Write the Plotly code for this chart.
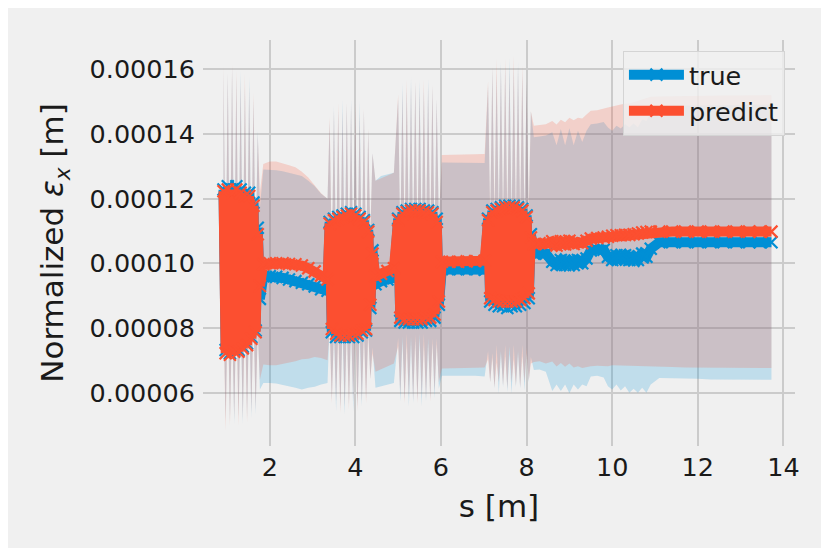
import plotly.graph_objects as go

# ---------------- data ----------------
s = [
    0.92, 0.97, 1.02, 1.07, 1.12, 1.17, 1.22, 1.27, 1.32, 1.37, 1.42, 1.47, 1.52, 1.57, 1.62, 1.67, 1.72,
    1.77, 1.85, 2.0, 2.15, 2.3, 2.45, 2.6, 2.75, 2.9, 3.05, 3.2, 3.35,
    3.40, 3.45, 3.50, 3.55, 3.60, 3.65, 3.70, 3.75, 3.80, 3.85, 3.90, 3.95, 4.00, 4.05, 4.10, 4.15, 4.20, 4.25, 4.30, 4.35, 4.40,
    4.47, 4.6, 4.75, 4.9,
    5.00, 5.05, 5.10, 5.15, 5.20, 5.25, 5.30, 5.35, 5.40, 5.45, 5.50, 5.55, 5.60, 5.65, 5.70, 5.75, 5.80, 5.85, 5.90, 5.95,
    6.02, 6.2, 6.4, 6.6, 6.8, 7.02,
    7.10, 7.15, 7.20, 7.25, 7.30, 7.35, 7.40, 7.45, 7.50, 7.55, 7.60, 7.65, 7.70, 7.75, 7.80, 7.85, 7.90, 7.95, 8.00, 8.05, 8.10,
    8.17, 8.3, 8.45, 8.6, 8.7, 8.8, 8.9, 9.0, 9.1, 9.2, 9.3, 9.4, 9.5, 9.65, 9.8, 9.9, 10.0, 10.1, 10.2, 10.3, 10.4, 10.5,
    10.6, 10.7, 10.8, 10.9, 11.1, 11.4, 11.7, 12.0, 12.3, 12.6, 12.9, 13.2, 13.45, 13.72,
]

true_eps = [
    12.28e-5, 7.32e-5, 12.38e-5, 7.22e-5, 12.28e-5, 7.32e-5, 12.38e-5, 7.32e-5, 12.28e-5, 7.42e-5, 12.18e-5, 7.52e-5, 12.18e-5, 7.72e-5, 11.88e-5, 7.92e-5, 11.1e-5,
    8.9e-5, 9.6e-5, 9.6e-5, 9.58e-5, 9.55e-5, 9.5e-5, 9.45e-5, 9.4e-5, 9.35e-5, 9.28e-5, 9.2e-5, 9.15e-5,
    11.28e-5, 7.87e-5, 11.38e-5, 7.72e-5, 11.43e-5, 7.72e-5, 11.48e-5, 7.72e-5, 11.53e-5, 7.72e-5, 11.58e-5, 7.72e-5, 11.53e-5, 7.77e-5, 11.43e-5, 7.87e-5, 11.33e-5, 7.92e-5, 11.03e-5, 8.62e-5, 10.4e-5,
    9.35e-5, 9.45e-5, 9.5e-5, 9.55e-5,
    11.38e-5, 8.22e-5, 11.58e-5, 8.17e-5, 11.63e-5, 8.17e-5, 11.68e-5, 8.17e-5, 11.68e-5, 8.17e-5, 11.68e-5, 8.17e-5, 11.63e-5, 8.22e-5, 11.63e-5, 8.22e-5, 11.58e-5, 8.32e-5, 11.38e-5, 8.72e-5,
    9.82e-5, 9.82e-5, 9.82e-5, 9.82e-5, 9.82e-5, 9.8e-5,
    11.38e-5, 8.82e-5, 11.63e-5, 8.72e-5, 11.68e-5, 8.67e-5, 11.73e-5, 8.67e-5, 11.78e-5, 8.62e-5, 11.78e-5, 8.67e-5, 11.78e-5, 8.67e-5, 11.73e-5, 8.72e-5, 11.68e-5, 8.77e-5, 11.48e-5, 8.92e-5, 10.9e-5,
    10.3e-5, 10.32e-5, 10.3e-5, 10.05e-5, 9.95e-5, 10.1e-5, 9.95e-5, 10.08e-5, 9.95e-5, 10.1e-5, 10.0e-5, 10.15e-5, 10.4e-5, 10.42e-5, 10.42e-5, 10.2e-5, 10.1e-5, 10.25e-5, 10.12e-5, 10.25e-5, 10.1e-5, 10.22e-5,
    10.1e-5, 10.3e-5, 10.2e-5, 10.45e-5, 10.65e-5, 10.65e-5, 10.65e-5, 10.65e-5, 10.65e-5, 10.65e-5, 10.65e-5, 10.65e-5, 10.65e-5, 10.65e-5,
]

pred_eps = [
    12.23e-5, 7.22e-5, 12.28e-5, 7.17e-5, 12.18e-5, 7.27e-5, 12.28e-5, 7.27e-5, 12.18e-5, 7.37e-5, 12.08e-5, 7.47e-5, 12.08e-5, 7.67e-5, 11.78e-5, 7.87e-5, 10.9e-5,
    9.3e-5, 9.97e-5, 10.0e-5, 10.0e-5, 10.0e-5, 9.98e-5, 9.97e-5, 9.93e-5, 9.85e-5, 9.75e-5, 9.62e-5, 9.5e-5,
    11.23e-5, 7.97e-5, 11.33e-5, 7.82e-5, 11.38e-5, 7.77e-5, 11.43e-5, 7.77e-5, 11.48e-5, 7.77e-5, 11.53e-5, 7.82e-5, 11.48e-5, 7.82e-5, 11.38e-5, 7.92e-5, 11.28e-5, 7.97e-5, 10.98e-5, 8.72e-5, 10.3e-5,
    9.6e-5, 9.68e-5, 9.76e-5, 9.85e-5,
    11.33e-5, 8.32e-5, 11.53e-5, 8.27e-5, 11.58e-5, 8.27e-5, 11.63e-5, 8.27e-5, 11.63e-5, 8.27e-5, 11.63e-5, 8.27e-5, 11.58e-5, 8.32e-5, 11.58e-5, 8.32e-5, 11.53e-5, 8.42e-5, 11.28e-5, 8.82e-5,
    10.05e-5, 10.05e-5, 10.05e-5, 10.06e-5, 10.07e-5, 10.08e-5,
    11.33e-5, 8.92e-5, 11.58e-5, 8.87e-5, 11.63e-5, 8.82e-5, 11.68e-5, 8.82e-5, 11.73e-5, 8.82e-5, 11.73e-5, 8.82e-5, 11.73e-5, 8.82e-5, 11.68e-5, 8.87e-5, 11.63e-5, 8.92e-5, 11.43e-5, 9.07e-5, 10.8e-5,
    10.6e-5, 10.62e-5, 10.6e-5, 10.68e-5, 10.55e-5, 10.68e-5, 10.58e-5, 10.7e-5, 10.6e-5, 10.66e-5, 10.62e-5, 10.7e-5, 10.77e-5, 10.78e-5, 10.8e-5, 10.82e-5, 10.85e-5, 10.87e-5, 10.87e-5, 10.88e-5, 10.88e-5, 10.9e-5,
    10.92e-5, 10.95e-5, 10.97e-5, 10.98e-5, 10.98e-5, 10.98e-5, 10.98e-5, 10.98e-5, 10.98e-5, 10.98e-5, 10.98e-5, 10.98e-5, 10.98e-5, 10.98e-5,
]

true_std = [
    3.7e-5, 2.2e-5, 3.5e-5, 2.1e-5, 3.8e-5, 2.3e-5, 3.4e-5, 2.1e-5, 3.7e-5, 2.4e-5, 3.3e-5, 2.3e-5, 3.6e-5, 2.5e-5, 3.2e-5, 2.6e-5, 3.0e-5,
    2.8e-5, 3.3e-5, 3.3e-5, 3.3e-5, 3.3e-5, 3.3e-5, 3.3e-5, 3.3e-5, 3.2e-5, 3.1e-5, 2.95e-5, 2.85e-5,
    3.1e-5, 2.1e-5, 3.5e-5, 2.3e-5, 3.3e-5, 2.2e-5, 3.6e-5, 2.4e-5, 3.4e-5, 2.1e-5, 3.5e-5, 2.3e-5, 3.2e-5, 2.2e-5, 3.6e-5, 2.3e-5, 3.4e-5, 2.1e-5, 3.1e-5, 2.2e-5, 3.0e-5,
    3.2e-5, 3.25e-5, 3.25e-5, 3.25e-5,
    3.7e-5, 2.5e-5, 4.0e-5, 2.4e-5, 3.8e-5, 2.6e-5, 4.1e-5, 2.5e-5, 3.9e-5, 2.4e-5, 4.0e-5, 2.6e-5, 3.8e-5, 2.5e-5, 4.1e-5, 2.4e-5, 3.9e-5, 2.5e-5, 3.7e-5, 2.6e-5,
    3.3e-5, 3.3e-5, 3.3e-5, 3.3e-5, 3.3e-5, 3.3e-5,
    4.1e-5, 2.5e-5, 4.4e-5, 2.6e-5, 4.2e-5, 2.7e-5, 4.5e-5, 2.5e-5, 4.3e-5, 2.6e-5, 4.6e-5, 2.7e-5, 4.3e-5, 2.5e-5, 4.5e-5, 2.6e-5, 4.2e-5, 2.7e-5, 4.1e-5, 2.6e-5, 3.8e-5,
    3.6e-5, 3.6e-5, 3.65e-5, 4.0e-5, 3.7e-5, 4.05e-5, 3.7e-5, 4.1e-5, 3.7e-5, 4.0e-5, 3.75e-5, 3.95e-5, 3.9e-5, 3.9e-5, 3.95e-5, 4.0e-5, 4.0e-5, 4.0e-5, 4.05e-5, 4.05e-5, 4.1e-5, 4.1e-5,
    4.1e-5, 4.15e-5, 4.2e-5, 4.2e-5, 4.2e-5, 4.22e-5, 4.22e-5, 4.22e-5, 4.24e-5, 4.24e-5, 4.24e-5, 4.25e-5, 4.25e-5, 4.25e-5,
]

pred_std = [
    3.9e-5, 2.4e-5, 3.6e-5, 2.2e-5, 4.0e-5, 2.1e-5, 3.7e-5, 2.3e-5, 3.5e-5, 2.2e-5, 3.8e-5, 2.4e-5, 3.4e-5, 2.3e-5, 3.5e-5, 2.4e-5, 3.1e-5,
    2.9e-5, 3.1e-5, 3.15e-5, 3.15e-5, 3.1e-5, 3.05e-5, 3.0e-5, 2.9e-5, 2.8e-5, 2.65e-5, 2.55e-5, 2.5e-5,
    3.3e-5, 2.3e-5, 3.4e-5, 2.1e-5, 3.6e-5, 2.4e-5, 3.3e-5, 2.2e-5, 3.5e-5, 2.3e-5, 3.4e-5, 2.1e-5, 3.5e-5, 2.4e-5, 3.3e-5, 2.2e-5, 3.5e-5, 2.3e-5, 3.2e-5, 2.3e-5, 3.1e-5,
    2.95e-5, 2.95e-5, 2.95e-5, 2.95e-5,
    3.9e-5, 2.4e-5, 3.8e-5, 2.6e-5, 4.1e-5, 2.4e-5, 3.9e-5, 2.5e-5, 4.0e-5, 2.6e-5, 3.8e-5, 2.4e-5, 4.1e-5, 2.5e-5, 3.9e-5, 2.6e-5, 4.0e-5, 2.4e-5, 3.8e-5, 2.5e-5,
    3.3e-5, 3.3e-5, 3.3e-5, 3.3e-5, 3.3e-5, 3.3e-5,
    4.3e-5, 2.6e-5, 4.5e-5, 2.7e-5, 4.7e-5, 2.5e-5, 4.4e-5, 2.6e-5, 4.6e-5, 2.7e-5, 4.3e-5, 2.5e-5, 4.7e-5, 2.6e-5, 4.4e-5, 2.7e-5, 4.5e-5, 2.6e-5, 4.2e-5, 2.7e-5, 3.9e-5,
    3.65e-5, 3.65e-5, 3.7e-5, 3.72e-5, 3.74e-5, 3.76e-5, 3.78e-5, 3.8e-5, 3.82e-5, 3.84e-5, 3.86e-5, 3.9e-5, 3.95e-5, 3.95e-5, 3.97e-5, 4.0e-5, 4.0e-5, 4.02e-5, 4.04e-5, 4.05e-5, 4.06e-5, 4.08e-5,
    4.1e-5, 4.12e-5, 4.15e-5, 4.17e-5, 4.18e-5, 4.19e-5, 4.2e-5, 4.2e-5, 4.2e-5, 4.21e-5, 4.21e-5, 4.22e-5, 4.22e-5, 4.22e-5,
]

x_ticks = [2, 4, 6, 8, 10, 12, 14]
y_ticks = [6e-5, 8e-5, 10e-5, 12e-5, 14e-5, 16e-5]
y_tick_labels = ["0.00006", "0.00008", "0.00010", "0.00012", "0.00014", "0.00016"]

series_names = ["true", "predict"]
BLUE = "#008fd5"
RED = "#fc4f30"
BG = "#f0f0f0"
FONT = "DejaVu Sans"


def band(y, sd):
    upper = [a + b for a, b in zip(y, sd)]
    lower = [a - b for a, b in zip(y, sd)]
    return s + s[::-1], upper + lower[::-1]


fig = go.Figure()

for y, sd, col in [(true_eps, true_std, "rgba(0,143,213,0.2)"),
                   (pred_eps, pred_std, "rgba(252,79,48,0.2)")]:
    bx, by = band(y, sd)
    fig.add_trace(go.Scatter(x=bx, y=by, fill="toself", fillcolor=col,
                             line=dict(width=0), mode="lines",
                             showlegend=False, hoverinfo="skip"))

for y, col, name in [(true_eps, BLUE, series_names[0]), (pred_eps, RED, series_names[1])]:
    fig.add_trace(go.Scatter(
        x=s, y=y, mode="lines+markers", name=name,
        line=dict(color=col, width=10),
        marker=dict(symbol="x-thin", size=12, color=col,
                    line=dict(color=col, width=2.2)),
    ))

grid = "#cbcbcb"
fig.update_layout(
    width=821, height=548,
    margin=dict(l=203, r=26, t=40, b=102),
    paper_bgcolor="white", plot_bgcolor=BG,
    font=dict(family=FONT, color="#1a1a1a", size=25.5),
    showlegend=True,
    legend=dict(x=0.983, xanchor="right", y=0.974, yanchor="top",
                bgcolor="rgba(240,240,240,0.8)", bordercolor="#d4d4d4",
                borderwidth=1, font=dict(size=25.5, family=FONT),
                itemwidth=55, tracegroupgap=0),
    xaxis=dict(range=[0.441, 14.27], tickvals=x_ticks, showgrid=True,
               gridcolor=grid, gridwidth=1.6, zeroline=False, showline=False,
               ticks="", automargin=False, ticklabelstandoff=3,
               tickfont=dict(size=25.5, family=FONT),
               title=dict(text="s [m]", font=dict(size=31, family=FONT), standoff=14)),
    yaxis=dict(range=[4.351e-5, 16.905e-5], tickvals=y_ticks, ticktext=y_tick_labels,
               showgrid=True, gridcolor=grid, gridwidth=1.6, zeroline=False,
               showline=False, ticks="", automargin=False, ticklabelstandoff=7,
               tickfont=dict(size=25.5, family=FONT),
               title=dict(text="Normalized <i>ε</i><sub><i>x</i></sub> [m]",
                          font=dict(size=31, family=FONT), standoff=16)),
    shapes=[
        # figure face (the reference shows a thin white strip at its top and left edges)
        dict(type="rect", xref="paper", yref="paper", x0=-0.3294, x1=1.1,
             y0=-0.3, y1=1.0788, fillcolor=BG, line=dict(width=0), layer="below"),
    ],
)

fig.write_html("out.html")
